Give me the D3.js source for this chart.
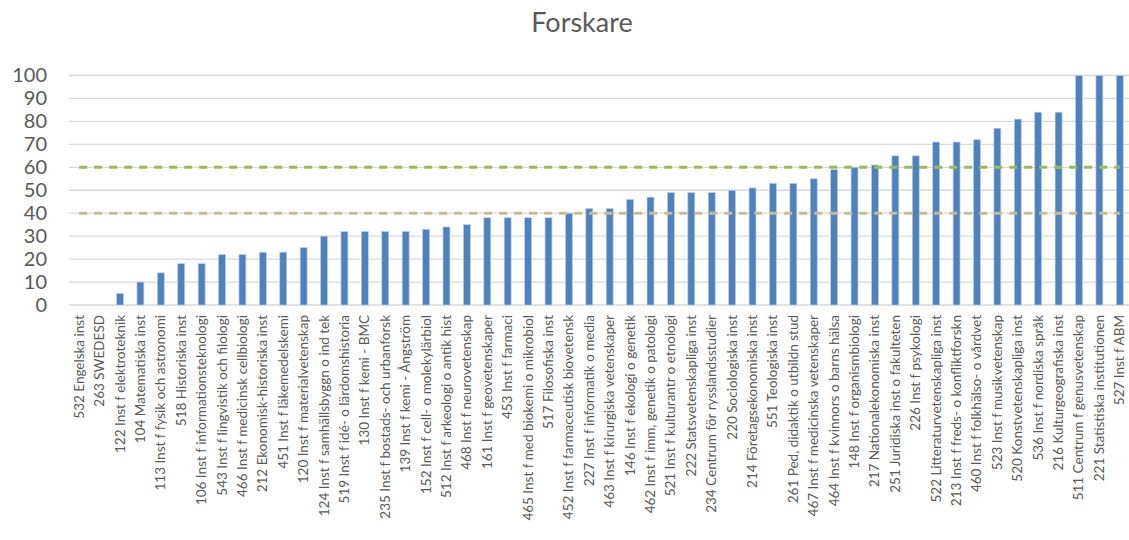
<html>
<head>
  <meta charset="utf-8">
  <script src="https://cdn.jsdelivr.net/npm/d3@7"></script>
  <style>
    body { margin:0; background:#fff; }
    text { font-family: Lato, "Liberation Sans", sans-serif; fill:#595959; }
  </style>
</head>
<body>
<div id="chart"></div>
<script>

var labels = [
  "532 Engelska inst", "263 SWEDESD", "122 Inst f elektroteknik", "104 Matematiska inst",
  "113 Inst f fysik och astronomi", "518 Historiska inst", "106 Inst f informationsteknologi",
  "543 Inst f lingvistik och filologi", "466 Inst f medicinsk cellbiologi",
  "212 Ekonomisk-historiska inst", "451 Inst f läkemedelskemi", "120 Inst f materialvetenskap",
  "124 Inst f samhällsbyggn o ind tek", "519 Inst f idé- o lärdomshistoria", "130 Inst f kemi - BMC",
  "235 Inst f bostads- och urbanforsk", "139 Inst f kemi - Ångström", "152 Inst f cell- o molekylärbiol",
  "512 Inst f arkeologi o antik hist", "468 Inst f neurovetenskap", "161 Inst f geovetenskaper",
  "453 Inst f farmaci", "465 Inst f med biokemi o mikrobiol", "517 Filosofiska inst",
  "452 Inst f farmaceutisk biovetensk", "227 Inst f informatik o media", "463 Inst f kirurgiska vetenskaper",
  "146 Inst f ekologi o genetik", "462 Inst f imm, genetik o patologi", "521 Inst f kulturantr o etnologi",
  "222 Statsvetenskapliga inst", "234 Centrum för rysslandsstudier", "220 Sociologiska inst",
  "214 Företagsekonomiska inst", "551 Teologiska inst", "261 Ped, didaktik o utbildn stud",
  "467 Inst f medicinska vetenskaper", "464 Inst f kvinnors o barns hälsa", "148 Inst f organismbiologi",
  "217 Nationalekonomiska inst", "251 Juridiska inst o fakulteten", "226 Inst f psykologi",
  "522 Litteraturvetenskapliga inst", "213 Inst f freds- o konfliktforskn", "460 Inst f folkhälso- o vårdvet",
  "523 Inst f musikvetenskap", "520 Konstvetenskapliga inst", "536 Inst f nordiska språk",
  "216 Kulturgeografiska inst", "511 Centrum f genusvetenskap", "221 Statistiska institutionen",
  "527 Inst f ABM"
]

var values = [0, 0, 5, 10, 14, 18, 18, 22, 22, 23, 23, 25, 30, 32, 32, 32, 32, 33, 34, 35,
              38, 38, 38, 38, 40, 42, 42, 46, 47, 49, 49, 49, 50, 51, 53, 53, 55, 59, 60, 61,
              65, 65, 71, 71, 72, 77, 81, 84, 84, 100, 100, 100]

var yTicks = [0, 10, 20, 30, 40, 50, 60, 70, 80, 90, 100]

// reference lines (one value per category, like the Excel line series)
var upper = labels.map(function() { return 60 })
var lower = labels.map(function() { return 40 })

var W = 1129, H = 540
var svg = d3.select("#chart").append("svg").attr("width", W).attr("height", H)

var x = d3.scaleBand().domain(labels).range([69, 1130]).paddingInner(0.66).paddingOuter(0.33)
var y = d3.scaleLinear().domain([0, 100]).range([305, 75.5])

svg.append("text").attr("x", 582).attr("y", 32)
   .attr("text-anchor", "middle").style("font-size", "27px")
   .text("Forskare")

// gridlines
svg.append("g").selectAll("line").data(yTicks).enter().append("line")
   .attr("x1", 69).attr("x2", 1129)
   .attr("y1", function(d) { return y(d) }).attr("y2", function(d) { return y(d) })
   .style("stroke", "#d9d9d9").style("stroke-width", 1.3)

// y axis labels
var yAxis = d3.axisLeft(y).tickValues(yTicks).tickSize(0).tickPadding(0)
var ga = svg.append("g").attr("transform", "translate(47,0)").call(yAxis)
ga.select(".domain").remove()
ga.selectAll("text").style("font-size", "20px").style("fill", "#595959")
  .style("font-family", "Lato, 'Liberation Sans', sans-serif")

// bars
svg.append("g").selectAll("rect").data(values).enter().append("rect")
   .attr("x", function(d, i) { return x(labels[i]) })
   .attr("width", x.bandwidth())
   .attr("y", function(d) { return y(d) })
   .attr("height", function(d) { return y(0) - y(d) })
   .style("fill", "#4f81bd")
   .style("stroke", "#b9cde5").style("stroke-width", 0.7)

// dashed reference lines
var line = d3.line()
  .x(function(d, i) { return x(labels[i]) + x.bandwidth() / 2 })
  .y(function(d) { return y(d) })

svg.append("path").datum(lower).attr("d", line)
   .style("fill", "none").style("stroke", "#c4bd97")
   .style("stroke-width", 3).style("stroke-dasharray", "8,7")
svg.append("path").datum(upper).attr("d", line)
   .style("fill", "none").style("stroke", "#9bbb59")
   .style("stroke-width", 3).style("stroke-dasharray", "8,7")

// category labels
svg.append("g").selectAll("text").data(labels).enter().append("text")
   .attr("transform", function(d) {
     return "translate(" + (x(d) + x.bandwidth() / 2 + 4.5) + ",315) rotate(-90)"
   })
   .attr("text-anchor", "end")
   .style("font-size", "13.5px")
   .text(function(d) { return d })

</script>
</body>
</html>
